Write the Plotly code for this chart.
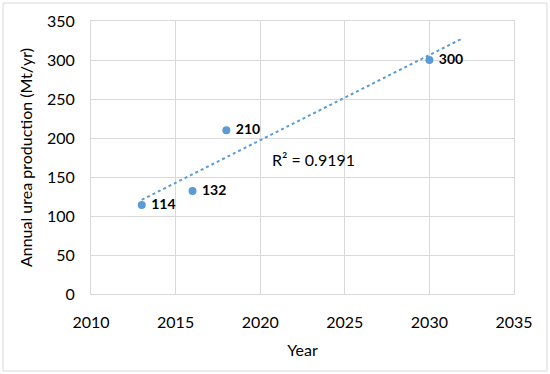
import numpy as np
import plotly.graph_objects as go

years = [2013, 2016, 2018, 2030]
production = [114, 132, 210, 300]
labels = ["114", "132", "210", "300"]
x_ticks = [2010, 2015, 2020, 2025, 2030, 2035]
y_ticks = [0, 50, 100, 150, 200, 250, 300, 350]

blue = "#5B9BD5"
font = "Lato, 'Open Sans', sans-serif"

slope, intercept = np.polyfit(years, production, 1)
trend_x = [min(years), max(years) + 2]
trend_y = [slope * v + intercept for v in trend_x]

fig = go.Figure()
fig.add_trace(go.Scatter(x=trend_x, y=trend_y, mode="lines",
                         line=dict(color=blue, width=2, dash="dot"),
                         hoverinfo="skip", showlegend=False))
fig.add_trace(go.Scatter(x=years, y=production, mode="markers+text",
                         marker=dict(color=blue, size=8),
                         text=[" " + t for t in labels],
                         textposition="middle right",
                         textfont=dict(family=font, size=14, color="#000000", weight="bold"),
                         showlegend=False))

fig.add_annotation(x=2020.6, y=173, text="R² = 0.9191", showarrow=False,
                   xanchor="left", yanchor="middle",
                   font=dict(family=font, size=16, color="#000000"))

axis_common = dict(showgrid=True, gridcolor="#D9D9D9", gridwidth=1,
                   zeroline=False, showline=True, linecolor="#D9D9D9", mirror=True,
                   ticks="", tickfont=dict(family=font, size=16, color="#000000"))

fig.update_xaxes(range=[2010, 2035], tickvals=x_ticks, ticklabelstandoff=14,
                 title=dict(text="Year", font=dict(family=font, size=16, color="#000000"), standoff=14),
                 **axis_common)
fig.update_yaxes(range=[0, 350], tickvals=y_ticks, ticklabelstandoff=12,
                 title=dict(text="Annual urea production (Mt/yr)", font=dict(family=font, size=16, color="#000000"), standoff=10),
                 **axis_common)

fig.update_layout(width=550, height=374,
                  margin=dict(l=91, r=36, t=21, b=80),
                  paper_bgcolor="white", plot_bgcolor="white",
                  shapes=[dict(type="rect", xref="paper", yref="paper",
                               x0=-88/423, x1=1 + 33/423, y0=-77/273, y1=1 + 18/273,
                               line=dict(color="#D9D9D9", width=1), layer="below")])

fig.write_html("out.html", config={"displayModeBar": False},
               post_script="document.body.style.margin='0';")
